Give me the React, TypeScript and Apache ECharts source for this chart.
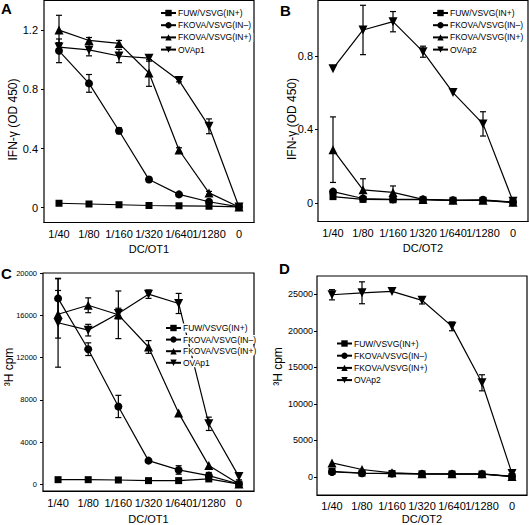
import React, { useEffect, useRef } from "react";
import * as echarts from "echarts";

const categories = ["1/40", "1/80", "1/160", "1/320", "1/640", "1/1280", "0"];
const nameFUW = "FUW/VSVG(IN+)";
const nameINm = "FKOVA/VSVG(IN–)";
const nameINp = "FKOVA/VSVG(IN+)";

// Panel A: IFN-gamma, DC/OT1
const aFUW = [0.03, 0.025, 0.02, 0.015, 0.013, 0.01, 0.005];
const aINm = [1.06, 0.84, 0.52, 0.19, 0.09, 0.04, 0.005];
const aINmErr = [0.08, 0.06, 0.02, 0.015, 0.01, 0.01, 0];
const aINp = [1.2, 1.13, 1.11, 0.91, 0.39, 0.1, 0.005];
const aINpErr = [0.1, 0.02, 0.02, 0.09, 0.015, 0.01, 0];
const aOVA = [1.085, 1.066, 1.025, 1.01, 0.86, 0.55, 0.005];
const aOVAErr = [0.03, 0.04, 0.045, 0.02, 0.01, 0.05, 0.012];

// Panel B: IFN-gamma, DC/OT2
const bFUW = [0.035, 0.02, 0.018, 0.018, 0.015, 0.015, 0.003];
const bINm = [0.062, 0.025, 0.02, 0.02, 0.015, 0.018, 0.005];
const bINp = [0.29, 0.072, 0.058, 0.02, 0.015, 0.015, 0.005];
const bINpErr = [0.178, 0.06, 0.035, 0, 0, 0, 0];
const bOVA = [0.73, 0.94, 0.985, 0.822, 0.6, 0.43, 0.01];
const bOVAErr = [0, 0.134, 0.055, 0.03, 0, 0.066, 0.02];

// Panel C: 3H cpm, DC/OT1
const cFUW = [470, 470, 440, 380, 380, 540, 50];
const cINm = [17600, 12800, 7390, 2270, 1390, 850, 60];
const cINmErr = [1850, 600, 1050, 0, 400, 300, 0];
const cINp = [16100, 16950, 16050, 13010, 6760, 1800, 60];
const cINpErr = [2250, 700, 2250, 600, 0, 0, 0];
const cOVA = [15300, 14600, 16170, 18000, 17120, 5750, 760];
const cOVAErr = [4200, 550, 500, 400, 950, 630, 300];

// Panel D: 3H cpm, DC/OT2
const dFUW = [750, 500, 450, 400, 380, 380, 30];
const dINm = [650, 480, 430, 380, 370, 350, 30];
const dINp = [1900, 990, 540, 400, 400, 400, 50];
const dOVA = [24930, 25200, 25390, 24170, 20600, 12870, 450];
const dOVAErr = [700, 1500, 0, 500, 600, 1100, 400];

const yTicksA = [0, 0.4, 0.8, 1.2];
const yTicksB = [0, 0.4, 0.8];
const yTicksC = [0, 4000, 8000, 12000, 16000, 20000];
const yTicksD = [0, 5000, 10000, 15000, 20000, 25000];

const FONT = "'Liberation Sans', Arial, Helvetica, sans-serif";

type Panel = {
  letter: string;
  grid: { left: number; top: number; width: number; height: number };
  yMin: number;
  yMax: number;
  yTicks: number[];
  yName: string;
  yNameGap: number;
  yNamePad: number[];
  yLabelSize: number;
  yLabelMargin: number;
  xName: string;
  xLabelMargin: number;
  xNameGap: number;
  series: { name: string; data: number[]; err: number[] | null }[];
  legend: { x: number; y0: number; dy: number };
  letterPos: { left: number; top: number };
};

const panels: Panel[] = [
  {
    letter: "A",
    grid: { left: 44, top: 0.5, width: 210, height: 222 },
    yMin: -0.1,
    yMax: 1.4,
    yTicks: yTicksA,
    yName: "IFN-γ (OD 450)",
    yNameGap: 25,
    yNamePad: [0, 16, 0, 0],
    yLabelSize: 11,
    yLabelMargin: 6,
    xName: "DC/OT1",
    xLabelMargin: 6,
    xNameGap: 21,
    series: [
      { name: nameFUW, data: aFUW, err: null },
      { name: nameINm, data: aINm, err: aINmErr },
      { name: nameINp, data: aINp, err: aINpErr },
      { name: "OVAp1", data: aOVA, err: aOVAErr },
    ],
    legend: { x: 160, y0: 13, dy: 12.2 },
    letterPos: { left: 1, top: 1 },
  },
  {
    letter: "B",
    grid: { left: 318, top: 0.5, width: 210, height: 221 },
    yMin: -0.1,
    yMax: 1.1,
    yTicks: yTicksB,
    yName: "IFN-γ (OD 450)",
    yNameGap: 20,
    yNamePad: [0, 16, 0, 0],
    yLabelSize: 11,
    yLabelMargin: 5,
    xName: "DC/OT2",
    xLabelMargin: 6,
    xNameGap: 21,
    series: [
      { name: nameFUW, data: bFUW, err: null },
      { name: nameINm, data: bINm, err: null },
      { name: nameINp, data: bINp, err: bINpErr },
      { name: "OVAp2", data: bOVA, err: bOVAErr },
    ],
    legend: { x: 432, y0: 13, dy: 12.2 },
    letterPos: { left: 280, top: 3 },
  },
  {
    letter: "C",
    grid: { left: 43, top: 273, width: 211, height: 219 },
    yMin: -600,
    yMax: 20000,
    yTicks: yTicksC,
    yName: "³H cpm",
    yNameGap: 28,
    yNamePad: [0, 0, 0, 30],
    yLabelSize: 7.5,
    yLabelMargin: 6,
    xName: "DC/OT1",
    xLabelMargin: 6,
    xNameGap: 22,
    series: [
      { name: nameFUW, data: cFUW, err: null },
      { name: nameINm, data: cINm, err: cINmErr },
      { name: nameINp, data: cINp, err: cINpErr },
      { name: "OVAp1", data: cOVA, err: cOVAErr },
    ],
    legend: { x: 165, y0: 328, dy: 11.6 },
    letterPos: { left: 1, top: 266 },
  },
  {
    letter: "D",
    grid: { left: 317, top: 276, width: 210, height: 220 },
    yMin: -2500,
    yMax: 27500,
    yTicks: yTicksD,
    yName: "³H cpm",
    yNameGap: 33,
    yNamePad: [0, 0, 0, 38],
    yLabelSize: 9,
    yLabelMargin: 4,
    xName: "DC/OT2",
    xLabelMargin: 5,
    xNameGap: 18,
    series: [
      { name: nameFUW, data: dFUW, err: null },
      { name: nameINm, data: dINm, err: null },
      { name: nameINp, data: dINp, err: null },
      { name: "OVAp2", data: dOVA, err: dOVAErr },
    ],
    legend: { x: 336, y0: 343.5, dy: 12.2 },
    letterPos: { left: 279, top: 261 },
  },
];

const symbols = [
  { symbol: "rect", size: 7, rotate: 0 },
  { symbol: "circle", size: 8, rotate: 0 },
  { symbol: "triangle", size: 9, rotate: 0 },
  { symbol: "triangle", size: 9, rotate: 180 },
];

function buildOption() {
  const grids: any[] = [];
  const xAxes: any[] = [];
  const yAxes: any[] = [];
  const series: any[] = [];
  const legends: any[] = [];
  const titles: any[] = [];

  panels.forEach((p, pi) => {
    grids.push({ ...p.grid, show: true, borderColor: "#000", borderWidth: 1.2, backgroundColor: "transparent" });
    xAxes.push({
      type: "category",
      gridIndex: pi,
      data: categories,
      boundaryGap: true,
      name: p.xName,
      nameLocation: "middle",
      nameGap: p.xNameGap,
      nameMoveOverlap: false,
      nameTextStyle: { fontFamily: FONT, fontSize: 11, color: "#000" },
      axisLine: { onZero: false, lineStyle: { color: "#000", width: 1.2 } },
      axisTick: { show: false },
      axisLabel: { fontFamily: FONT, fontSize: 11, color: "#000", margin: p.xLabelMargin, interval: 0, hideOverlap: false },
      splitLine: { show: false },
    });
    yAxes.push({
      type: "value",
      gridIndex: pi,
      min: p.yMin,
      max: p.yMax,
      name: p.yName,
      nameLocation: "middle",
      nameGap: p.yNameGap,
      nameMoveOverlap: false,
      nameTextStyle: { fontFamily: FONT, fontSize: 12, color: "#000", padding: p.yNamePad },
      axisLine: { onZero: false, lineStyle: { color: "#000", width: 1.2 } },
      axisTick: { show: true, length: 3, inside: false, customValues: p.yTicks, lineStyle: { color: "#000", width: 1 } },
      axisLabel: {
        fontFamily: FONT,
        fontSize: p.yLabelSize,
        color: "#000",
        margin: p.yLabelMargin,
        customValues: p.yTicks,
        formatter: (v: number) => String(v),
      },
      splitLine: { show: false },
    });
    p.series.forEach((s, si) => {
      const sym = symbols[si];
      series.push({
        type: "line",
        name: s.name,
        xAxisIndex: pi,
        yAxisIndex: pi,
        data: s.data,
        symbol: sym.symbol,
        symbolSize: sym.size,
        symbolRotate: sym.rotate,
        showAllSymbol: true,
        lineStyle: { color: "#000", width: 1.2 },
        itemStyle: { color: "#000", borderWidth: 0 },
        z: 3,
      });
    });
    const errData: number[][] = [];
    p.series.forEach((s) => {
      if (!s.err) return;
      s.err.forEach((e, i) => {
        if (e > 0) errData.push([i, s.data[i] - e, s.data[i] + e]);
      });
    });
    series.push({
      type: "custom",
      name: "err" + p.letter,
      xAxisIndex: pi,
      yAxisIndex: pi,
      data: errData,
      z: 2,
      renderItem: (params: any, api: any) => {
        const x = api.value(0);
        const lo = api.value(1);
        const hi = api.value(2);
        const a = api.coord([x, hi]);
        const b = api.coord([x, lo]);
        const w = 3;
        const st = { stroke: "#000", lineWidth: 1.2 };
        return {
          type: "group",
          children: [
            { type: "line", shape: { x1: a[0], y1: a[1], x2: b[0], y2: b[1] }, style: st },
            { type: "line", shape: { x1: a[0] - w, y1: a[1], x2: a[0] + w, y2: a[1] }, style: st },
            { type: "line", shape: { x1: b[0] - w, y1: b[1], x2: b[0] + w, y2: b[1] }, style: st },
          ],
        };
      },
    });
    p.series.forEach((s, si) => {
      legends.push({
        data: [s.name],
        left: p.legend.x - 1,
        top: p.legend.y0 + si * p.legend.dy - 4.5,
        orient: "vertical",
        itemWidth: 15,
        itemHeight: 8,
        itemGap: 0,
        padding: [0, 2, 0, 1],
        backgroundColor: "#fff",
        selectedMode: false,
        textStyle: { fontFamily: FONT, fontSize: 8.5, color: "#000", padding: [0, 0, 0, -3] },
      });
    });
    titles.push({
      text: p.letter,
      left: p.letterPos.left,
      top: p.letterPos.top,
      padding: 0,
      textStyle: { fontFamily: FONT, fontSize: 15, fontWeight: "bold", color: "#000" },
    });
  });

  return {
    animation: false,
    backgroundColor: "#fff",
    title: titles,
    grid: grids,
    xAxis: xAxes,
    yAxis: yAxes,
    legend: legends,
    series,
  };
}

export default function App() {
  const ref = useRef<HTMLDivElement>(null);
  useEffect(() => {
    if (!ref.current) return;
    const chart = echarts.init(ref.current, undefined, { renderer: "svg" });
    chart.setOption(buildOption() as any);
    return () => chart.dispose();
  }, []);
  return (
    <div
      ref={ref}
      style={{ position: "fixed", left: 0, top: 0, width: 529, height: 525, background: "#fff" }}
    />
  );
}
